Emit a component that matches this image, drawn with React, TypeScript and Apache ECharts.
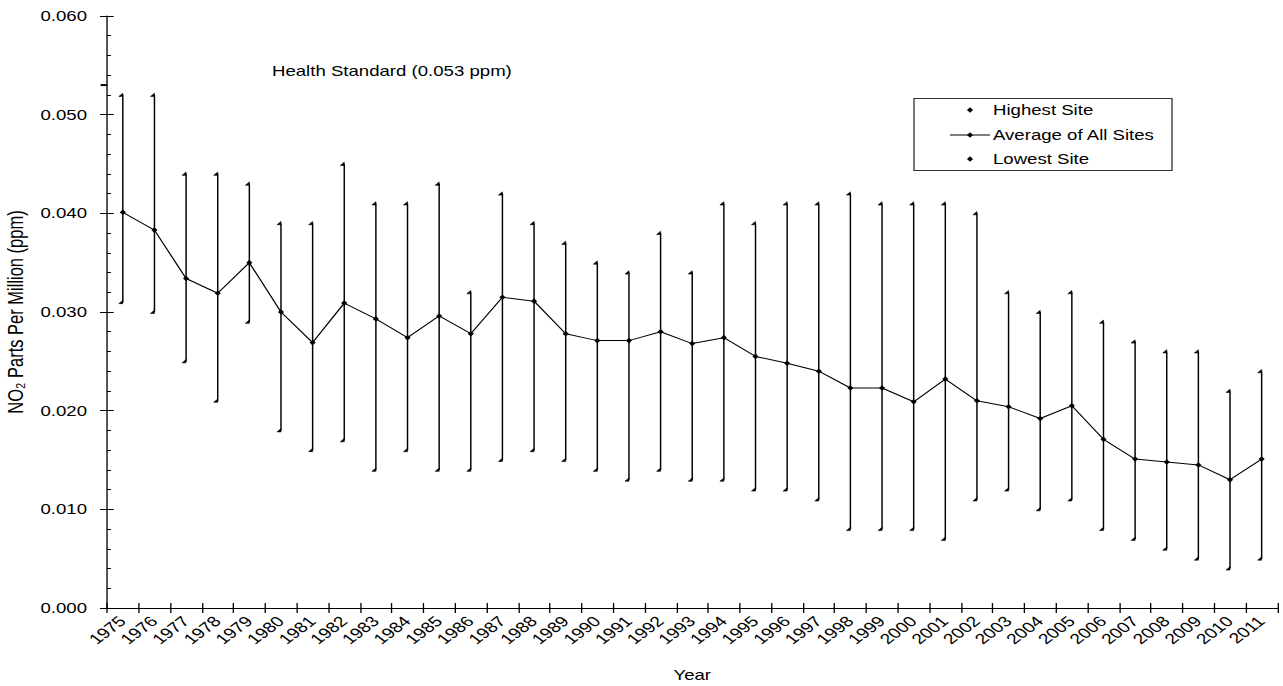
import React, { useEffect, useRef } from "react";
import * as echarts from "echarts";

// NO2 annual statistics, 1975-2011 (ppm)
const years = [
  "1975", "1976", "1977", "1978", "1979", "1980", "1981", "1982", "1983", "1984",
  "1985", "1986", "1987", "1988", "1989", "1990", "1991", "1992", "1993", "1994",
  "1995", "1996", "1997", "1998", "1999", "2000", "2001", "2002", "2003", "2004",
  "2005", "2006", "2007", "2008", "2009", "2010", "2011",
];

const highestSite = [
  0.052, 0.052, 0.044, 0.044, 0.043, 0.039, 0.039, 0.045, 0.041, 0.041,
  0.043, 0.032, 0.042, 0.039, 0.037, 0.035, 0.034, 0.038, 0.034, 0.041,
  0.039, 0.041, 0.041, 0.042, 0.041, 0.041, 0.041, 0.040, 0.032, 0.030,
  0.032, 0.029, 0.027, 0.026, 0.026, 0.022, 0.024,
];

const averageAllSites = [
  0.0401, 0.0383, 0.0334, 0.0319, 0.0350, 0.0300, 0.0269, 0.0309, 0.0293, 0.0274,
  0.0296, 0.0278, 0.0315, 0.0311, 0.0278, 0.0271, 0.0271, 0.0280, 0.0268, 0.0274,
  0.0255, 0.0248, 0.0240, 0.0223, 0.0223, 0.0209, 0.0232, 0.0210, 0.0204, 0.0192,
  0.0205, 0.0171, 0.0151, 0.0148, 0.0145, 0.0130, 0.0151,
];

const lowestSite = [
  0.031, 0.030, 0.025, 0.021, 0.029, 0.018, 0.016, 0.017, 0.014, 0.016,
  0.014, 0.014, 0.015, 0.016, 0.015, 0.014, 0.013, 0.014, 0.013, 0.013,
  0.012, 0.012, 0.011, 0.008, 0.008, 0.008, 0.007, 0.011, 0.012, 0.010,
  0.011, 0.008, 0.007, 0.006, 0.005, 0.004, 0.005,
];

const healthStandard = 0.053;
const yMin = 0;
const yMax = 0.06;
const yStep = 0.01;

const FONT = "'Liberation Sans', Arial, sans-serif";
const INK = "#000000";

// The chart is laid out on a narrower canvas and widened horizontally.
const OUTER_W = 1283;
const OUTER_H = 686;
const STRETCH = 1.3295;
const INNER_W = OUTER_W / STRETCH;

const sx = (x: number) => x / STRETCH;

function capTriangle(x: number, y: number) {
  return {
    type: "polygon",
    shape: { points: [[x - 3, y + 1.5], [x, y - 1.8], [x, y + 1.5]] },
    style: { fill: INK, stroke: INK, lineWidth: 0.5 },
  };
}

function buildOption() {
  const highData = years.map((_, i) => [i, averageAllSites[i], highestSite[i]]);
  const lowData = years.map((_, i) => [i, lowestSite[i], averageAllSites[i]]);

  const legendLeft = sx(914);
  const legendRight = sx(1172);
  const markerX = sx(970);
  const textX = sx(993);
  const rows = [110, 135, 159];
  const diamond = (cx: number, cy: number) => ({
    type: "polygon",
    shape: { points: [[cx - 2.3, cy], [cx, cy - 2.8], [cx + 2.3, cy], [cx, cy + 2.8]] },
    style: { fill: INK },
  });

  return {
    animation: false,
    backgroundColor: "#ffffff",
    textStyle: { fontFamily: FONT, color: INK },
    grid: {
      left: sx(107),
      right: sx(5.5),
      top: 16,
      bottom: 78,
      containLabel: false,
      outerBoundsMode: "none",
    },
    xAxis: [
      {
        type: "category",
        data: years,
        position: "bottom",
        boundaryGap: true,
        name: "Year",
        nameLocation: "middle",
        nameGap: 60,
        nameTextStyle: { fontSize: 14, color: INK, fontFamily: FONT },
        axisLine: { show: true, onZero: false, lineStyle: { color: INK, width: 1 } },
        axisTick: { show: true, inside: false, length: 5, interval: 0, lineStyle: { color: INK, width: 1 } },
        axisLabel: { rotate: 45, interval: 0, margin: 11, fontSize: 14.5, color: INK, fontFamily: FONT },
        splitLine: { show: false },
      },
      {
        type: "category",
        data: years,
        position: "bottom",
        boundaryGap: true,
        axisLine: { show: false, onZero: false },
        axisTick: { show: true, inside: true, length: 5, interval: 0, lineStyle: { color: INK, width: 1 } },
        axisLabel: { show: false },
        splitLine: { show: false },
      },
    ],
    yAxis: [
      {
        type: "value",
        min: yMin,
        max: yMax,
        interval: yStep,
        position: "left",
        name: "NO\u2082 Parts Per Million (ppm)",
        nameLocation: "middle",
        nameGap: 58,
        nameTextStyle: { fontSize: 16.5, color: INK, fontFamily: FONT },
        axisLine: { show: true, onZero: false, lineStyle: { color: INK, width: 1 } },
        axisTick: { show: true, inside: false, length: 5.3, lineStyle: { color: INK, width: 1 } },
        axisLabel: {
          formatter: (v: number) => v.toFixed(3),
          margin: 15,
          fontSize: 14,
          color: INK,
          fontFamily: FONT,
        },
        splitLine: { show: false },
      },
      {
        type: "value",
        min: yMin,
        max: yMax,
        interval: yStep,
        position: "left",
        axisLine: { show: false, onZero: false },
        axisTick: { show: true, inside: true, length: 5, lineStyle: { color: INK, width: 1 } },
        minorTick: { show: true, splitNumber: 5, length: 3, lineStyle: { color: INK, width: 1 } },
        axisLabel: { show: false },
        splitLine: { show: false },
        minorSplitLine: { show: false },
      },
    ],
    series: [
      {
        name: "Highest Site",
        type: "custom",
        xAxisIndex: 0,
        yAxisIndex: 0,
        data: highData,
        encode: { x: 0, y: [1, 2] },
        z: 2,
        renderItem: (_params: any, api: any) => {
          const top = api.coord([api.value(0), api.value(2)]);
          const base = api.coord([api.value(0), api.value(1)]);
          return {
            type: "group",
            children: [
              {
                type: "line",
                shape: { x1: top[0], y1: top[1], x2: base[0], y2: base[1] },
                style: { stroke: INK, lineWidth: 1.1 },
              },
              capTriangle(top[0], top[1]),
            ],
          };
        },
      },
      {
        name: "Lowest Site",
        type: "custom",
        xAxisIndex: 0,
        yAxisIndex: 0,
        data: lowData,
        encode: { x: 0, y: [1, 2] },
        z: 2,
        renderItem: (_params: any, api: any) => {
          const bottom = api.coord([api.value(0), api.value(1)]);
          const base = api.coord([api.value(0), api.value(2)]);
          return {
            type: "group",
            children: [
              {
                type: "line",
                shape: { x1: bottom[0], y1: bottom[1], x2: base[0], y2: base[1] },
                style: { stroke: INK, lineWidth: 1.1 },
              },
              capTriangle(bottom[0], bottom[1]),
            ],
          };
        },
      },
      {
        name: "Average of All Sites",
        type: "line",
        xAxisIndex: 0,
        yAxisIndex: 0,
        data: averageAllSites,
        symbol: "diamond",
        symbolSize: [4.6, 5.6],
        itemStyle: { color: INK },
        lineStyle: { color: INK, width: 1 },
        z: 3,
      },
      {
        name: "Health Standard",
        type: "custom",
        xAxisIndex: 0,
        yAxisIndex: 0,
        data: [[0, healthStandard]],
        clip: false,
        z: 4,
        renderItem: (_params: any, api: any) => {
          const p = api.coord([api.value(0), api.value(1)]);
          const band = api.size([1, 0])[0];
          const x0 = p[0] - band / 2;
          return {
            type: "line",
            shape: { x1: x0 - 4.8, y1: p[1], x2: x0, y2: p[1] },
            style: { stroke: INK, lineWidth: 2 },
          };
        },
      },
    ],
    graphic: [
      {
        type: "text",
        left: sx(272),
        top: 64,
        style: { text: "Health Standard (0.053 ppm)", font: `14px ${FONT}`, fill: INK },
      },
      {
        type: "rect",
        shape: { x: legendLeft, y: 98.5, width: legendRight - legendLeft, height: 72 },
        style: { fill: "#ffffff", stroke: "#333333", lineWidth: 1 },
        z: 10,
      },
      { ...diamond(markerX, rows[0]), z: 11 },
      {
        type: "line",
        shape: { x1: sx(950), y1: rows[1], x2: sx(990), y2: rows[1] },
        style: { stroke: INK, lineWidth: 1 },
        z: 11,
      },
      { ...diamond(markerX, rows[1]), z: 11 },
      { ...diamond(markerX, rows[2]), z: 11 },
      {
        type: "text",
        x: textX,
        y: rows[0],
        style: { text: "Highest Site", font: `14px ${FONT}`, fill: INK, verticalAlign: "middle" },
        z: 11,
      },
      {
        type: "text",
        x: textX,
        y: rows[1],
        style: { text: "Average of All Sites", font: `14px ${FONT}`, fill: INK, verticalAlign: "middle" },
        z: 11,
      },
      {
        type: "text",
        x: textX,
        y: rows[2],
        style: { text: "Lowest Site", font: `14px ${FONT}`, fill: INK, verticalAlign: "middle" },
        z: 11,
      },
    ],
  };
}

export default function App() {
  const ref = useRef<HTMLDivElement>(null);

  useEffect(() => {
    if (!ref.current) return;
    const chart = echarts.init(ref.current, undefined, { renderer: "svg" });
    chart.setOption(buildOption() as any);
    return () => chart.dispose();
  }, []);

  return (
    <div
      style={{
        position: "fixed",
        left: 0,
        top: 0,
        width: OUTER_W,
        height: OUTER_H,
        overflow: "hidden",
        background: "#ffffff",
      }}
    >
      <div
        ref={ref}
        style={{
          width: INNER_W,
          height: OUTER_H,
          transform: `scaleX(${STRETCH})`,
          transformOrigin: "0 0",
        }}
      />
    </div>
  );
}
